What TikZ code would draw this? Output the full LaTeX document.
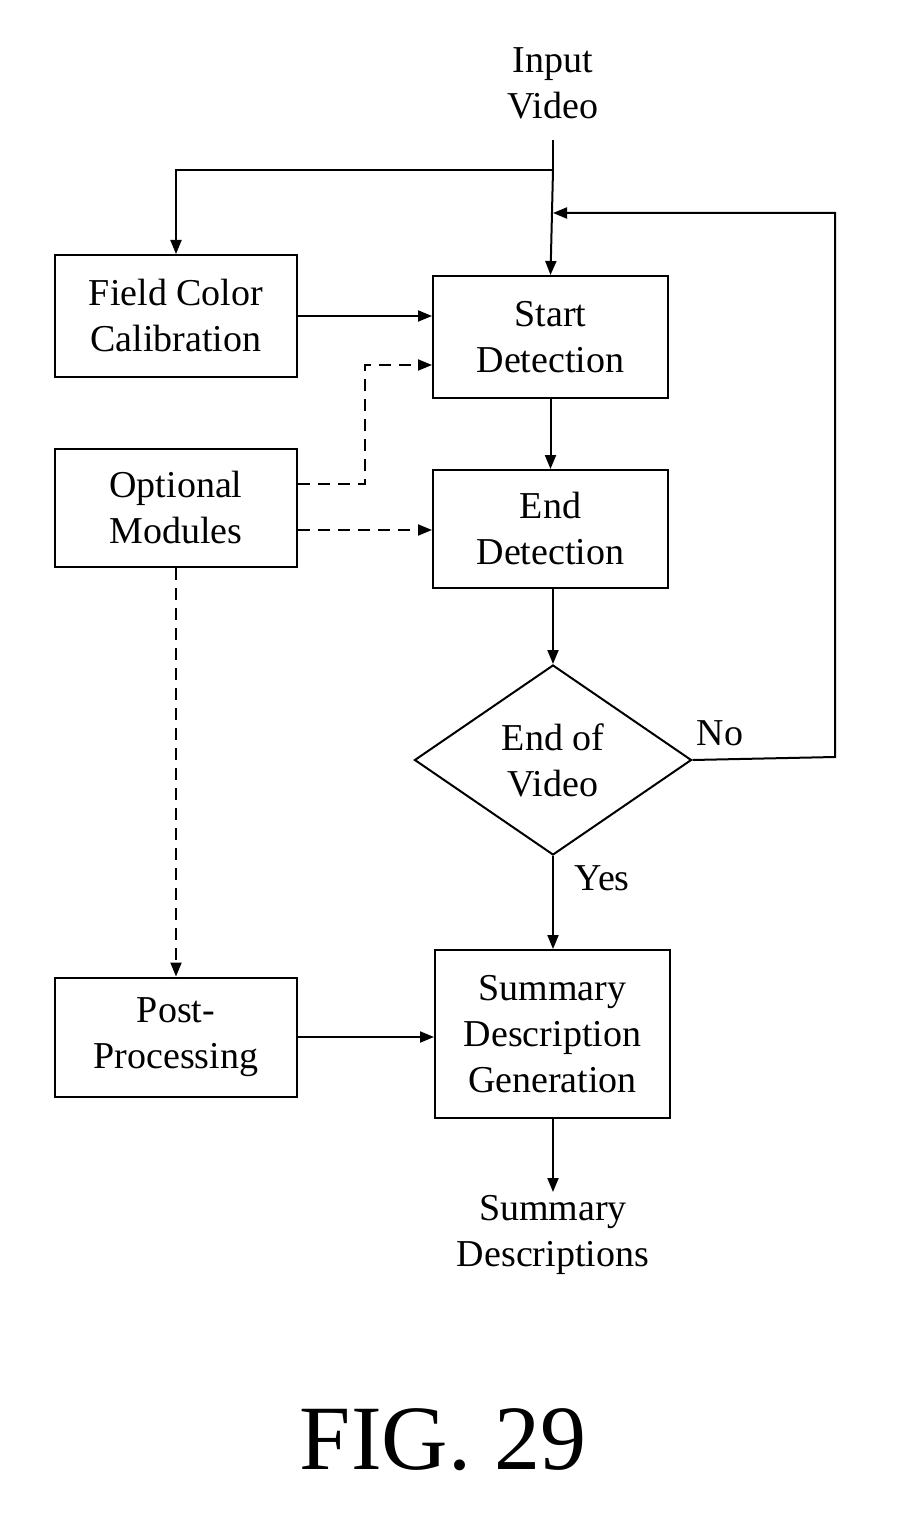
\documentclass[tikz,border=0pt]{standalone}
\usepackage{fontspec}
\setmainfont{Liberation Serif}
\usetikzlibrary{arrows.meta,shapes.geometric}
\begin{document}
\begin{tikzpicture}[x=0.5pt,y=-0.5pt,
  box/.style={draw,line width=1pt,inner sep=0pt,align=center,font=\fontsize{19}{23}\selectfont},
  arr/.style={line width=1pt,-{Triangle[length=7pt,width=5.5pt]}},
  lab/.style={align=center,font=\fontsize{19}{23}\selectfont},
  dsh/.style={dash pattern=on 6pt off 4pt}]
\useasboundingbox (0,0) rectangle (912,1513);
\node[box,minimum width=121pt,minimum height=61pt] (fcc) at (176,316) {Field Color\\Calibration};
\node[box,minimum width=117.5pt,minimum height=61pt] (sd) at (550.5,337) {Start\\Detection};
\node[box,minimum width=121pt,minimum height=59pt] (om) at (176,508) {Optional\\Modules};
\node[box,minimum width=117.5pt,minimum height=59pt] (ed) at (550.5,529) {End\\Detection};
\node[draw,line width=1pt,diamond,aspect=1.46,minimum width=138.5pt,minimum height=95pt,inner sep=0pt,lab] (eov) at (553,760) {End of\\Video};
\node[box,minimum width=121pt,minimum height=59.5pt] (pp) at (176,1037) {Post-\\Processing};
\node[box,minimum width=117.5pt,minimum height=84pt] (sdg) at (552.5,1034) {Summary\\Description\\Generation};
\node[lab] (in) at (553,83) {Input\\Video};
\node[lab] (out) at (553,1235) {Summary\\Descriptions};
\node[font=\fontsize{46}{50}\selectfont] (fig) at (443,1440) {FIG. 29};
\coordinate (j) at (553,170);
\draw[line width=1pt] (553,140) -- (j);
\draw[arr] (j) -- (sd.north);
\draw[arr] (j) -| (fcc.north);
\draw[arr] (fcc.east|-0,316) -- (sd.west|-0,316);
\draw[arr,dsh] (om.east|-0,484) -- (365,484) -- (365,365) -- (sd.west|-0,365);
\draw[arr,dsh] (om.east|-0,530) -- (ed.west|-0,530);
\draw[arr,dsh] (om.south) -- (pp.north);
\draw[arr] (sd.south) -- (ed.north);
\draw[arr] (ed.south-|553,0) -- (eov.north);
\draw[arr] (eov.east) -- (835,757) -- (835,213) -- (553,213);
\draw[arr] (eov.south) -- (sdg.north-|553,0);
\draw[arr] (pp.east) -- (sdg.west|-pp.east);
\draw[arr] (sdg.south-|553,0) -- (553,1192);
\node[lab] at (720,733) {No};
\node[lab] at (602,878) {Yes};
\end{tikzpicture}
\end{document}
